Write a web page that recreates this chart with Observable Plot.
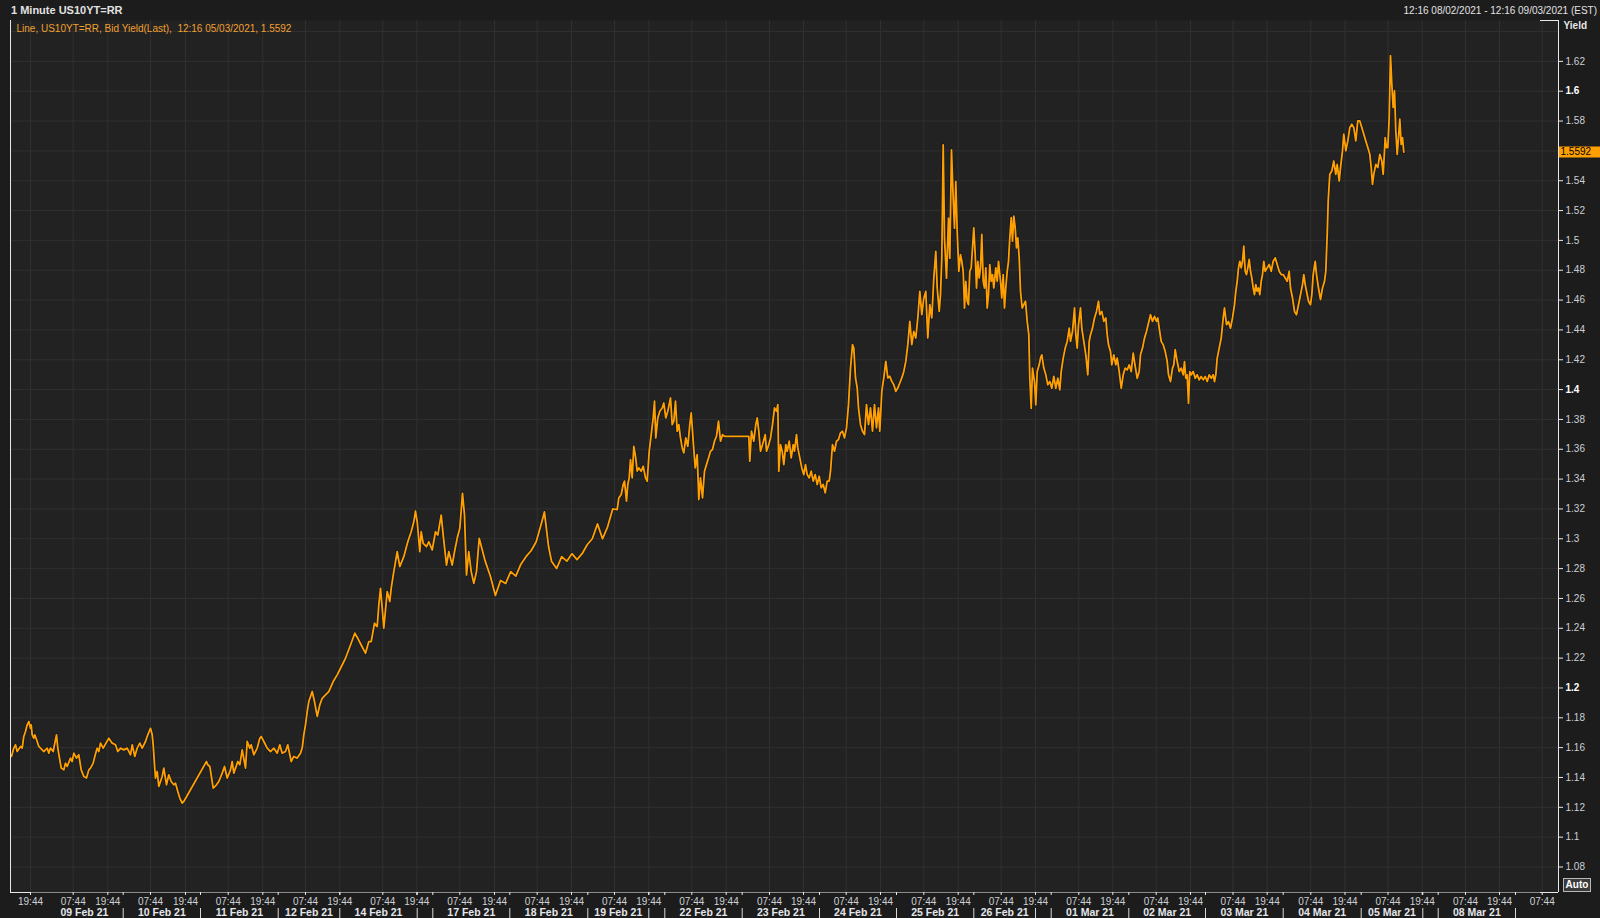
<!DOCTYPE html>
<html><head><meta charset="utf-8">
<script src="https://cdn.jsdelivr.net/npm/d3@7"></script>
<script src="https://cdn.jsdelivr.net/npm/@observablehq/plot@0.6"></script>
<style>
html,body{margin:0;padding:0;background:#1c1c1c;width:1600px;height:918px;overflow:hidden;font-family:"Liberation Sans",Arial,sans-serif;}
#wrap{position:relative;width:1600px;height:918px;}
#hdr{height:18px;position:relative;color:#e2e2e2;font-size:10px;}
#title{position:absolute;left:11px;top:4px;font-weight:bold;font-size:11px;}
#range{position:absolute;right:3px;top:5px;}
#chart{height:900px;}
#auto{position:absolute;left:1563px;top:878px;width:26px;height:12px;border:1px solid #b8b8b8;background:#3a3a3a;color:#fff;font-weight:bold;font-size:10px;line-height:12px;text-align:center;}
</style></head>
<body><div id="wrap"><div id="hdr"><span id="title">1 Minute US10YT=RR</span><span id="range">12:16 08/02/2021 - 12:16 09/03/2021 (EST)</span></div><div id="chart"></div><div id="auto">Auto</div></div>
<script>
// ---- data: bar index (compressed trading time) and bid yield ----
const bar = [
1.0,3.3,5.0,6.7,10.0,11.7,13.3,15.0,16.7,18.3,20.0,20.7,21.7,23.3,24.3,26.7,28.3,31.7,33.3,36.7,38.3,40.0,42.7,44.3,46.0,47.3,49.0,50.7,53.3,55.0,56.7,60.0,61.7,63.3,66.0,68.3,70.7,73.3,76.0,78.3,80.0,82.7,84.3,86.7,88.3,90.0,92.7,98.3,101.7,105.0,107.3,110.0,113.3,116.7,120.0,121.7,124.3,126.7,129.3,131.7,135.0,136.7,140.0,141.7,142.7,144.0,145.0,146.7,148.3,151.7,153.3,156.0,158.3,160.7,163.3,165.0,167.3,169.3,171.7,173.3,
196.0,197.3,199.3,202.7,206.0,208.3,211.7,214.0,216.7,220.0,221.7,223.3,227.3,229.3,231.7,235.0,236.7,239.3,240.7,243.3,246.7,249.3,250.7,253.3,256.7,260.0,263.3,266.7,269.3,271.7,275.0,277.3,280.7,283.3,286.7,290.0,291.7,293.3,295.0,296.7,298.3,301.7,304.0,306.7,309.3,311.7,315.0,318.3,322.7,326.7,330.0,335.0,340.0,344.3,347.3,350.7,355.0,358.3,360.7,364.0,366.7,368.3,370.0,372.0,373.3,376.7,379.3,380.7,383.3,386.7,389.3,393.3,397.3,400.7,403.3,405.0,406.7,409.3,410.7,412.7,416.0,418.3,421.7,425.0,427.3,430.7,432.7,436.0,438.3,441.7,444.0,446.7,449.3,452.0,454.0,456.0,458.3,460.7,463.3,466.0,468.7,
474.7,479.8,484.9,490.0,495.1,500.2,505.3,510.4,515.5,520.6,525.7,530.8,533.9,538.0,541.0,546.1,551.2,556.3,561.4,566.5,571.6,576.7,581.8,587.0,592.0,597.1,602.2,
606.7,608.3,610.7,612.7,614.0,616.0,617.3,618.7,620.0,621.7,623.3,625.0,626.7,628.3,630.7,632.7,635.0,636.7,638.7,640.7,642.7,644.0,645.3,647.3,649.3,651.7,653.3,655.3,657.3,660.0,661.7,663.3,665.0,666.7,668.3,670.0,671.7,673.3,675.3,677.3,679.3,680.7,682.7,684.7,686.7,688.3,690.0,692.0,694.0,696.0,698.0,700.0,702.0,704.0,706.0,708.0,710.0,712.0,714.0,
738.3,739.3,741.0,743.3,745.3,746.7,748.3,750.0,752.0,754.7,756.0,758.3,760.0,762.0,764.0,766.0,767.3,768.3,770.0,771.7,773.3,775.3,776.7,778.7,780.7,782.7,784.0,786.0,787.3,789.3,791.3,793.3,795.0,796.7,798.7,800.7,802.7,804.7,806.7,808.7,810.7,812.7,814.7,816.7,818.7,820.0,822.0,824.0,826.0,828.0,830.0,832.0,834.0,836.0,838.0,840.0,842.0,843.3,845.0,846.7,848.0,850.0,852.0,854.0,856.0,858.0,860.0,862.0,864.0,866.0,868.0,869.3,871.3,873.3,875.3,877.3,879.3,881.3,883.3,885.3,887.3,889.3,891.3,893.3,895.3,897.3,899.3,901.3,903.3,905.3,907.3,909.3,911.3,913.3,915.3,917.3,919.3,921.3,923.3,925.3,926.7,928.7,930.0,931.3,932.7,934.0,936.0,938.0,939.3,941.0,942.7,944.0,945.3,946.7,
948.3,950.0,951.3,952.7,954.0,955.3,956.7,958.0,959.3,960.7,962.0,963.3,964.7,966.0,967.3,968.7,970.0,971.3,972.7,974.0,975.3,976.7,978.0,979.3,980.7,982.0,983.3,985.3,986.7,988.0,990.0,991.3,992.7,994.0,995.3,996.7,998.0,999.3,1000.7,1002.0,1003.3,1004.7,1006.0,1007.3,1008.7,1010.0,1011.7,1013.3,1015.0,1016.7,1018.3,1019.3,1020.7,1022.0,1024.0,1025.3,1026.7,1028.7,1030.0,1031.3,1033.3,1035.3,1037.3,1039.3,1041.3,1043.3,1045.3,1047.3,1049.3,1050.7,1052.7,1054.7,1056.7,1058.7,1060.0,1062.0,1064.0,1065.3,1066.7,1068.0,1070.0,1071.3,1073.3,1075.3,1077.3,1078.7,1080.0,1082.0,1084.0,1086.0,1088.0,1089.3,1091.3,1093.3,1095.3,1096.7,1098.0,1100.0,1101.3,1103.3,1105.3,1106.7,1108.7,1110.7,1112.7,1114.7,1116.7,1118.7,1120.7,1122.7,1124.7,1126.7,1128.7,1130.0,1132.0,1134.0,1136.0,1138.0,1140.0,1142.0,1144.0,1146.0,1147.3,1148.7,1150.7,1152.7,1154.7,1156.7,1158.0,1160.0,1162.0,1163.3,1164.7,1166.7,1168.7,1170.7,1172.7,1174.0,1175.3,1176.7,1178.0,1179.3,1180.7,1182.7,1184.7,1186.7,1188.7,1190.7,1192.7,1194.7,1196.7,1198.7,1200.7,1202.7,1204.0,1205.3,1206.7,1208.7,1210.7,1212.7,1214.0,1216.0,1218.0,1220.0,1222.0,1224.0,1225.3,1226.7,1228.0,1229.3,1230.7,1232.0,1233.3,1234.7,1236.0,1237.3,1238.7,1240.0,1241.3,1242.7,1244.0,1245.3,1246.7,1248.0,1249.3,1250.7,1252.0,1253.3,1254.7,1256.7,1258.7,1260.7,1262.7,1264.7,1266.7,1268.7,1270.7,1272.7,1274.7,1276.7,1278.7,1280.0,1282.0,1284.0,1286.0,1288.0,1290.0,1292.0,1293.3,1294.7,1296.7,1298.0,1300.0,1301.3,1302.7,1304.7,1306.0,1308.0,1310.0,1312.0,1314.0,1315.3,1316.7,1317.7,1319.3,1321.3,1323.3,1325.3,1326.7,1328.7,1330.0,1332.0,1333.3,1335.3,1337.3,1339.3,1341.3,1343.3,1345.3,1347.3,1349.3,1351.3,1353.3,1355.3,1357.3,1359.3,1360.7,1362.0,1363.3,1365.3,1367.3,1369.3,1371.3,1372.7,1374.7,1376.0,1377.3,1378.7,1380.0,1381.3,1382.7,1384.0,1385.3,1386.7,1388.0,1389.3,1390.7,1392.0,1393.3
];
const bidYield = [
1.1541,1.1597,1.1619,1.1574,1.1608,1.1597,1.1675,1.1708,1.1753,1.1775,1.1730,1.1753,1.1686,1.1663,1.1686,1.1641,1.1608,1.1585,1.1574,1.1597,1.1563,1.1597,1.1574,1.1630,1.1686,1.1597,1.1530,1.1463,1.1451,1.1496,1.1474,1.1530,1.1507,1.1563,1.1530,1.1552,1.1451,1.1407,1.1396,1.1451,1.1463,1.1496,1.1541,1.1597,1.1574,1.1630,1.1597,1.1663,1.1630,1.1619,1.1574,1.1597,1.1585,1.1597,1.1552,1.1619,1.1541,1.1597,1.1630,1.1597,1.1641,1.1675,1.1730,1.1686,1.1619,1.1485,1.1396,1.1440,1.1340,1.1407,1.1463,1.1351,1.1418,1.1373,1.1351,1.1362,1.1306,1.1262,1.1228,1.1239,
1.1507,1.1485,1.1474,1.1329,1.1351,1.1373,1.1429,1.1474,1.1396,1.1451,1.1507,1.1429,1.1507,1.1485,1.1585,1.1463,1.1641,1.1597,1.1619,1.1552,1.1597,1.1663,1.1675,1.1641,1.1597,1.1574,1.1597,1.1563,1.1619,1.1563,1.1574,1.1619,1.1507,1.1541,1.1530,1.1563,1.1597,1.1686,1.1753,1.1842,1.1909,1.1976,1.1909,1.1809,1.1887,1.1931,1.1954,1.1976,1.2043,1.2088,1.2132,1.2199,1.2288,1.2367,1.2333,1.2288,1.2233,1.2311,1.2311,1.2434,1.2411,1.2556,1.2668,1.2512,1.2400,1.2646,1.2579,1.2668,1.2780,1.2913,1.2813,1.2880,1.2980,1.3047,1.3114,1.3186,1.3114,1.2913,1.3047,1.2969,1.2947,1.2980,1.2925,1.3047,1.3025,1.3159,1.3025,1.2824,1.2913,1.2824,1.2913,1.3003,1.3070,1.3304,1.3159,1.2757,1.2913,1.2780,1.2701,1.2780,1.3003,
1.285,1.275,1.262,1.272,1.270,1.278,1.275,1.283,1.288,1.292,1.298,1.310,1.318,1.295,1.285,1.280,1.288,1.285,1.290,1.286,1.290,1.296,1.300,1.310,1.300,1.308,1.320,
1.3196,1.3274,1.3297,1.3364,1.3386,1.3252,1.3364,1.3408,1.3531,1.3408,1.3620,1.3553,1.3453,1.3475,1.3453,1.3486,1.3408,1.3386,1.3587,1.3698,1.3810,1.3922,1.3676,1.3810,1.3855,1.3877,1.3910,1.3810,1.3855,1.3944,1.3765,1.3788,1.3922,1.3721,1.3765,1.3676,1.3609,1.3576,1.3676,1.3620,1.3765,1.3843,1.3654,1.3475,1.3564,1.3263,1.3408,1.3274,1.3453,1.3497,1.3542,1.3587,1.3598,1.3654,1.3687,1.3788,1.3654,1.3698,1.3687,
1.3687,1.3520,1.3721,1.3654,1.3765,1.3810,1.3721,1.3587,1.3631,1.3698,1.3587,1.3631,1.3676,1.3765,1.3877,1.3855,1.3899,1.3453,1.3631,1.3587,1.3497,1.3631,1.3587,1.3654,1.3542,1.3631,1.3587,1.3698,1.3609,1.3542,1.3475,1.3430,1.3497,1.3430,1.3408,1.3453,1.3386,1.3430,1.3364,1.3419,1.3341,1.3364,1.3308,1.3386,1.3386,1.3453,1.3631,1.3587,1.3654,1.3665,1.3710,1.3721,1.3676,1.3743,1.3899,1.4145,1.4301,1.4279,1.4078,1.4011,1.3877,1.3765,1.3721,1.3698,1.3899,1.3765,1.3877,1.3721,1.3899,1.3743,1.3877,1.3721,1.3988,1.4078,1.4189,1.4078,1.4089,1.4055,1.4033,1.3988,1.4011,1.4044,1.4078,1.4122,1.4189,1.4301,1.4457,1.4301,1.4390,1.4346,1.4480,1.4658,1.4502,1.4613,1.4658,1.4346,1.4569,1.4480,1.4747,1.4926,1.4680,1.4524,1.4636,1.4881,1.5640,1.5015,1.4747,1.5149,1.4881,1.5607,1.5283,1.5082,1.5395,1.5060,
1.4793,1.4905,1.4860,1.4793,1.4547,1.4726,1.4592,1.4569,1.4793,1.4816,1.4950,1.5084,1.4905,1.4681,1.4860,1.4748,1.4816,1.5040,1.4726,1.4681,1.4816,1.4547,1.4636,1.4838,1.4726,1.4771,1.4681,1.4816,1.4726,1.4860,1.4726,1.4614,1.4771,1.4547,1.4681,1.4793,1.4860,1.5017,1.5152,1.4995,1.5163,1.5084,1.4950,1.5017,1.4883,1.4659,1.4547,1.4569,1.4592,1.4457,1.4368,1.4076,1.3875,1.4144,1.4054,1.3897,1.4121,1.4166,1.4211,1.4233,1.4144,1.4099,1.4032,1.4054,1.4009,1.4088,1.4009,1.4076,1.3998,1.4121,1.4211,1.4278,1.4323,1.4412,1.4323,1.4390,1.4547,1.4368,1.4278,1.4435,1.4547,1.4412,1.4323,1.4233,1.4099,1.4323,1.4368,1.4412,1.4480,1.4524,1.4592,1.4502,1.4524,1.4457,1.4480,1.4368,1.4300,1.4256,1.4166,1.4233,1.4166,1.4211,1.4121,1.4009,1.4099,1.4144,1.4132,1.4166,1.4121,1.4244,1.4155,1.4076,1.4121,1.4233,1.4278,1.4345,1.4390,1.4446,1.4502,1.4457,1.4491,1.4457,1.4480,1.4412,1.4323,1.4300,1.4256,1.4188,1.4099,1.4054,1.4144,1.4166,1.4267,1.4188,1.4121,1.4144,1.4099,1.4188,1.4076,1.4099,1.3908,1.4121,1.4099,1.4121,1.4076,1.4099,1.4065,1.4088,1.4065,1.4088,1.4054,1.4099,1.4076,1.4099,1.4054,1.4099,1.4211,1.4278,1.4345,1.4480,1.4547,1.4435,1.4457,1.4412,1.4480,1.4569,1.4659,1.4726,1.4816,1.4860,1.4816,1.4860,1.4961,1.4793,1.4771,1.4816,1.4872,1.4793,1.4748,1.4681,1.4636,1.4704,1.4659,1.4681,1.4636,1.4726,1.4771,1.4860,1.4793,1.4816,1.4838,1.4793,1.4860,1.4883,1.4838,1.4793,1.4771,1.4771,1.4748,1.4726,1.4793,1.4681,1.4614,1.4524,1.4502,1.4569,1.4636,1.4704,1.4771,1.4704,1.4636,1.4592,1.4569,1.4636,1.4771,1.4860,1.4771,1.4681,1.4603,1.4681,1.4726,1.4793,1.5040,1.5264,1.5443,1.5465,1.5532,1.5443,1.5510,1.5398,1.5488,1.5600,1.5712,1.5600,1.5667,1.5756,1.5779,1.5756,1.5667,1.5801,1.5801,1.5756,1.5712,1.5667,1.5622,1.5577,1.5488,1.5376,1.5443,1.5510,1.5488,1.5577,1.5532,1.5443,1.5689,1.5622,1.5622,1.5824,1.6238,1.6048,1.5891,1.6003,1.5734,1.5577,1.5689,1.5812,1.5644,1.5689,1.5592
];
const lastYield = 1.5592;
const legendText = "Line, US10YT=RR, Bid Yield(Last),  12:16 05/03/2021, 1.5592";

// y axis (1.56 sits under the current-value box and is not shown)
const yTickValues = [1.08,1.1,1.12,1.14,1.16,1.18,1.22,1.24,1.26,1.28,1.3,1.32,1.34,1.36,1.38,1.42,1.44,1.46,1.48,1.5,1.52,1.54,1.58,1.62];
const yBoldValues = [1.2,1.4,1.6];
const yGridValues = [1.08,1.1,1.12,1.14,1.16,1.18,1.2,1.22,1.24,1.26,1.28,1.3,1.32,1.34,1.36,1.38,1.4,1.42,1.44,1.46,1.48,1.5,1.52,1.54,1.56,1.58,1.6,1.62,1.64];
const yDomain = [1.0629, 1.6474];
const xDomain = [0, 1548];

// x axis (bar index positions)
const timeTickBars = [20,62.7,97.3,140,175,217.7,252.3,295,329.3,372.3,406.3,449.3,484,526.7,561,604,638.3,681.3,715.7,759,793,835.7,870,913.3,947.7,990.7,1025,1068.3,1102.3,1145.7,1180,1222.5,1256.7,1300.3,1334.5,1377.5,1411.7,1455,1489,1531.7];
const timeTickLabels = ["19:44","07:44","19:44","07:44","19:44","07:44","19:44","07:44","19:44","07:44","19:44","07:44","19:44","07:44","19:44","07:44","19:44","07:44","19:44","07:44","19:44","07:44","19:44","07:44","19:44","07:44","19:44","07:44","19:44","07:44","19:44","07:44","19:44","07:44","19:44","07:44","19:44","07:44","19:44","07:44"];
const daySeparatorBars = [112.7,190,267.7,329.3,406.7,422.3,499.3,577.3,638.3,654.3,731.7,809,886,963.3,1025,1040.7,1118.3,1195,1272.7,1350.7,1412.3,1427.7,1505];
const dayNames = ["09 Feb 21","10 Feb 21","11 Feb 21","12 Feb 21","14 Feb 21","17 Feb 21","18 Feb 21","19 Feb 21","22 Feb 21","23 Feb 21","24 Feb 21","25 Feb 21","26 Feb 21","01 Mar 21","02 Mar 21","03 Mar 21","04 Mar 21","05 Mar 21","08 Mar 21"];
const dayStartBars = [35.2,112.7,190,267.7,329.3,422.3,499.3,577.3,654.3,731.7,809,886,963.3,1040.7,1118.3,1195,1272.7,1350.7,1427.7];
const dayEndBars = [112.7,190,267.7,329.3,406.7,499.3,577.3,638.3,731.7,809,886,963.3,1025,1118.3,1195,1272.7,1350.7,1412.3,1505];

const series = bar.map((b, i) => ({bar: b, yield: bidYield[i]}));
const fmt = v => String(+v.toFixed(2));
const frameH = 872;

const chart = Plot.plot({
  width: 1600, height: 900,
  marginTop: 2, marginRight: 42, marginBottom: 26, marginLeft: 10,
  style: {background: "transparent", fontFamily: "'Liberation Sans', Arial, sans-serif", fontSize: "10px", overflow: "visible"},
  x: {domain: xDomain, axis: null},
  y: {domain: yDomain, axis: null},
  marks: [
    Plot.frame({fill: "#222222", stroke: null}),
    Plot.gridY(yGridValues, {stroke: "#303030", strokeOpacity: 1}),
    Plot.gridX(timeTickBars, {stroke: "#303030", strokeOpacity: 1}),
    Plot.line(series, {x: "bar", y: "yield", stroke: "#10161f", strokeWidth: 3.2, strokeLinejoin: "round"}),
    Plot.line(series, {x: "bar", y: "yield", stroke: "#ff9f00", strokeWidth: 1.8, strokeLinejoin: "round"}),
    Plot.ruleY([yDomain[0]], {stroke: "#8a8a8a"}),
    Plot.ruleX([xDomain[0]], {stroke: "#e8e8e8"}),
    Plot.ruleX([xDomain[1]], {stroke: "#e8e8e8"}),
    Plot.ruleY([yDomain[1]], {x1: xDomain[1] - 18, x2: xDomain[1], stroke: "#e8e8e8"}),
    Plot.ruleY([yDomain[0]], {x1: xDomain[1] - 18, x2: xDomain[1], stroke: "#e8e8e8"}),
    Plot.ruleY([yDomain[0]], {x1: xDomain[0], x2: xDomain[0] + 20, stroke: "#e8e8e8"}),
    // y axis
    Plot.axisY(yTickValues, {anchor: "right", tickSize: 4, tickPadding: 3, label: null,
      tickFormat: fmt, fill: "#cdd0d4", stroke: "#e8e8e8", fontSize: 10}),
    Plot.axisY(yBoldValues, {anchor: "right", tickSize: 4, tickPadding: 3, label: null,
      tickFormat: fmt, fill: "#ffffff", stroke: "#e8e8e8", fontWeight: "bold", fontSize: 10}),
    Plot.text(["Yield"], {frameAnchor: "top-right", dx: 5, dy: 1, textAnchor: "start", lineAnchor: "top",
      fontWeight: "bold", fill: "#e6e6e6", fontSize: 10}),
    // current value marker
    Plot.ruleY([lastYield], {x1: xDomain[1] + 1, x2: xDomain[1] + 42, stroke: "#ffa000", strokeWidth: 11}),
    Plot.text([lastYield], {x: xDomain[1], y: d => d, text: d => d.toFixed(4), textAnchor: "start", dx: 2,
      fill: "#000000", fontSize: 10}),
    // legend line
    Plot.text([legendText], {frameAnchor: "top-left", dx: 6, dy: 4, textAnchor: "start", lineAnchor: "top",
      fill: "#f0a030", fontSize: 10}),
    // x axis
    Plot.axisX([...timeTickBars, ...daySeparatorBars], {anchor: "bottom", tickSize: 3, tickFormat: () => "",
      stroke: "#e8e8e8", label: null}),
    Plot.text(timeTickBars, {x: d => d, text: (d, i) => timeTickLabels[i], frameAnchor: "bottom", dy: 12,
      fill: "#cdd0d4", fontSize: 10}),
    Plot.tickX(daySeparatorBars, {x: d => d, insetTop: frameH + 16, insetBottom: -26, stroke: "#d8d8d8"}),
    Plot.text(dayNames, {x: (d, i) => (dayStartBars[i] + dayEndBars[i]) / 2, text: d => d, frameAnchor: "bottom",
      dy: 23, fill: "#e4e6ea", fontWeight: "bold", fontSize: 10.5})
  ]
});
document.getElementById("chart").appendChild(chart);
</script>
</body></html>
